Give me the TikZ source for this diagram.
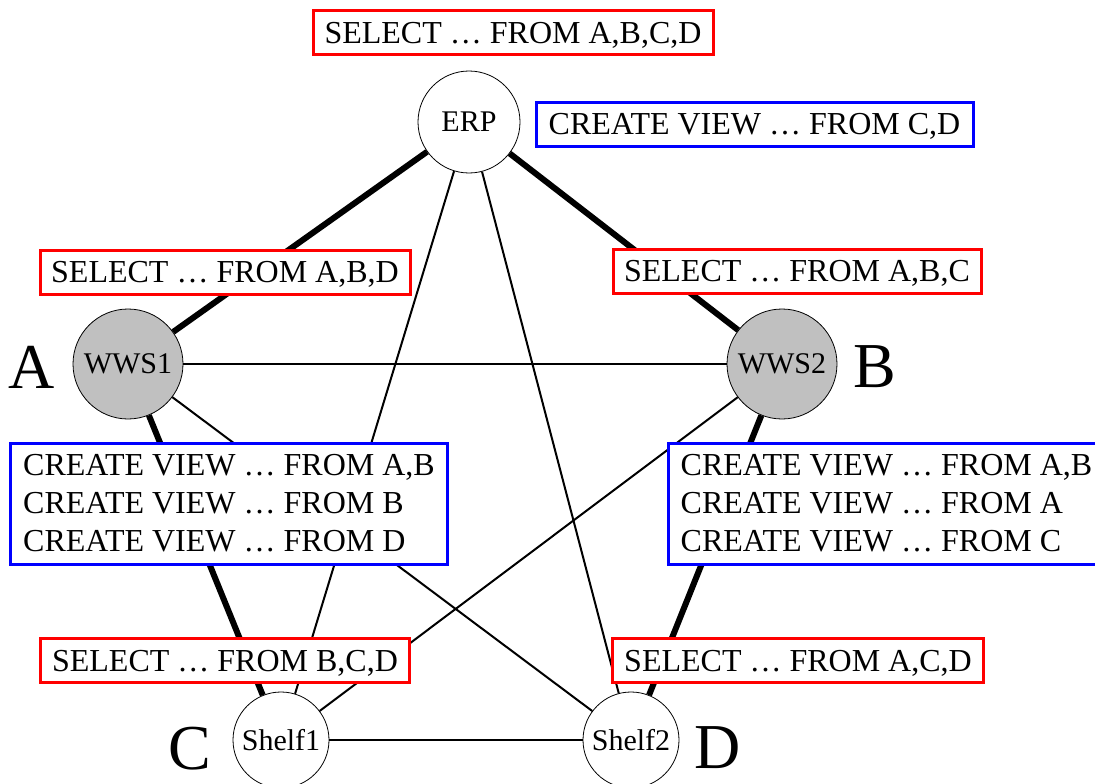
\documentclass[tikz,border=0pt]{standalone}
\usepackage{fontspec}
\setmainfont{Liberation Serif}
\definecolor{wgray}{HTML}{C0C0C0}
\definecolor{bred}{HTML}{FF0000}
\definecolor{bblue}{HTML}{0000FF}
\tikzset{
  circ/.style={circle, draw=black, line width=0.8pt, fill=white, inner sep=0pt, font=\fontsize{30}{30}\selectfont},
  wws/.style={circ, fill=wgray, minimum size=110pt},
  shelf/.style={circ, minimum size=96pt},
  erpnode/.style={circ, minimum size=102pt},
  thickedge/.style={line width=6pt},
  thinedge/.style={line width=2pt},
  qbox/.style={rectangle, line width=3pt, fill=white, inner sep=0pt, font=\fontsize{32}{38}\selectfont},
  redbox/.style={qbox, draw=bred, minimum height=44pt, text depth=0pt},
  bluebox/.style={qbox, draw=bblue},
  lab/.style={inner sep=0pt, anchor=base, font=\fontsize{64}{64}\selectfont}
}
\begin{document}
\begin{tikzpicture}[x=1pt,y=-1pt]
\useasboundingbox (0,0) rectangle (1095,784);
% nodes
\node[erpnode] (erp) at (469,122) {ERP};
\node[wws] (w1) at (128,364) {WWS1};
\node[wws] (w2) at (782,364) {WWS2};
\node[shelf] (s1) at (281,740) {Shelf1};
\node[shelf] (s2) at (631,740) {Shelf2};
% edges
\draw[thickedge] (erp) -- (w1);
\draw[thickedge] (erp) -- (w2);
\draw[thickedge] (w1) -- (s1);
\draw[thickedge] (w2) -- (s2);
\draw[thinedge] (w1) -- (w2);
\draw[thinedge] (erp) -- (s1);
\draw[thinedge] (erp) -- (s2);
\draw[thinedge] (w1) -- (s2);
\draw[thinedge] (w2) -- (s1);
\draw[thinedge] (s1) -- (s2);
% boxes
\node[redbox, minimum width=400pt] (qerp) at (513,33) {SELECT … FROM A,B,C,D};
\node[bluebox, minimum width=437pt, minimum height=44pt, text depth=0pt] (verp) at (754.5,124) {CREATE VIEW … FROM C,D};
\node[redbox, minimum width=370pt] (qw1) at (225,272) {SELECT … FROM A,B,D};
\node[redbox, minimum width=368pt] (qw2) at (797,271) {SELECT … FROM A,B,C};
\node[bluebox, minimum width=437pt, minimum height=121pt, align=left] (vw1) at (229,503.5)
  {CREATE VIEW … FROM A,B\\CREATE VIEW … FROM B\\CREATE VIEW … FROM D};
\node[bluebox, minimum width=437pt, minimum height=121pt, align=left] (vw2) at (886.5,503.5)
  {CREATE VIEW … FROM A,B\\CREATE VIEW … FROM A\\CREATE VIEW … FROM C};
\node[redbox, minimum width=369pt] (qs1) at (225,660.5) {SELECT … FROM B,C,D};
\node[redbox, minimum width=371pt] (qs2) at (798,660.5) {SELECT … FROM A,C,D};
% letters
\node[lab] (la) at (32,388) {A};
\node[lab] (lb) at (875,387) {B};
\node[lab] (lc) at (190,769) {C};
\node[lab] (ld) at (718,768) {D};
\end{tikzpicture}
\end{document}
